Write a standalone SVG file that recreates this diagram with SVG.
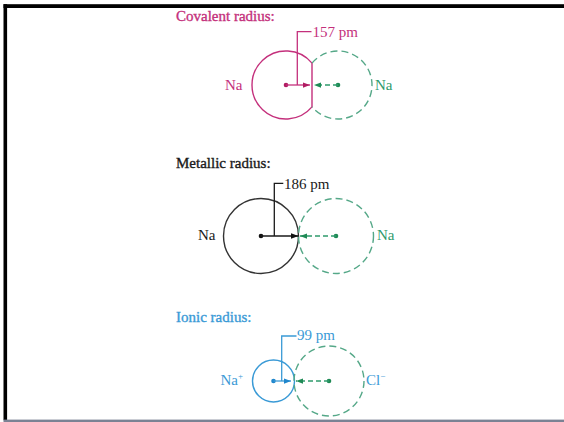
<svg xmlns="http://www.w3.org/2000/svg" width="564" height="422" viewBox="0 0 564 422">
<style>
text{font-family:"Liberation Serif","Times New Roman",serif;font-size:15px}
.t{stroke-width:0.35}
.pink{fill:#c4307c}.grn{fill:#2f9a6c}.blk{fill:#1a1a1a}.blue{fill:#3a9ad6}
.pink.t{stroke:#c4307c}.blk.t{stroke:#1a1a1a}.blue.t{stroke:#3a9ad6}
.cp{fill:none;stroke:#c4307c;stroke-width:1.4}
.cb{fill:none;stroke:#333;stroke-width:1.4}
.cbl{fill:none;stroke:#3a9ad6;stroke-width:1.4}
.cg{fill:none;stroke:#55a888;stroke-width:1.4;stroke-dasharray:7,4}
.lp{stroke:#c4307c;stroke-width:1.3;fill:none}
.lb{stroke:#1a1a1a;stroke-width:1.3;fill:none}
.lbl{stroke:#3a9ad6;stroke-width:1.3;fill:none}
.lg{stroke:#2f9a6c;stroke-width:1.3;fill:none;stroke-dasharray:5,3}
</style>
<defs>
<marker id="ap" viewBox="0 0 8 6" refX="8" refY="3" markerWidth="7" markerHeight="5.5" markerUnits="userSpaceOnUse" orient="auto"><path d="M0,0L8,3L0,6Z" fill="#b01c62"/></marker>
<marker id="ab" viewBox="0 0 8 6" refX="8" refY="3" markerWidth="8" markerHeight="6" markerUnits="userSpaceOnUse" orient="auto"><path d="M0,0L8,3L0,6Z" fill="#111"/></marker>
<marker id="abl" viewBox="0 0 8 6" refX="8" refY="3" markerWidth="7" markerHeight="5.5" markerUnits="userSpaceOnUse" orient="auto"><path d="M0,0L8,3L0,6Z" fill="#1f86cc"/></marker>
<marker id="ag" viewBox="0 0 8 6" refX="8" refY="3" markerWidth="7" markerHeight="5.5" markerUnits="userSpaceOnUse" orient="auto"><path d="M0,0L8,3L0,6Z" fill="#1f8a55"/></marker>
</defs>
<rect x="0" y="0" width="564" height="422" fill="#fff"/>
<g id="frame">
<rect x="3.5" y="4.2" width="561" height="3.8" fill="#000"/>
<rect x="3.5" y="4.2" width="3.6" height="416" fill="#000"/>
<rect x="3.5" y="419.6" width="561" height="2.4" fill="#7b8294"/>
</g>
<g id="covalent">
<text x="176" y="20.7" class="pink t">Covalent radius:</text>
<g id="cov-na1"><path class="cp" d="M312,63.1A34,34 0 1,0 312,106.9Z"/><circle cx="286" cy="85" r="2.3" fill="#b01c62"/><text x="225" y="89.5" class="pink">Na</text></g>
<g id="cov-na2"><path class="cg" d="M312,63.1A34,34 0 1,1 312,106.9"/><circle cx="338" cy="85" r="2.3" fill="#1f8a55"/><text x="375" y="89.5" class="grn">Na</text></g>
<text x="312.5" y="37" class="pink">157 pm</text>
</g>
<g id="metallic">
<text x="176" y="168.3" class="blk t">Metallic radius:</text>
<g id="met-na1"><circle class="cb" cx="261" cy="236" r="37.5"/><circle cx="261" cy="236" r="2.3" fill="#111"/><text x="198" y="240" class="blk">Na</text></g>
<g id="met-na2"><circle class="cg" cx="336" cy="236" r="37.5"/><circle cx="336" cy="236" r="2.3" fill="#1f8a55"/><text x="377" y="240" class="grn">Na</text></g>
<text x="284" y="188.5" class="blk">186 pm</text>
</g>
<g id="ionic">
<text x="176" y="321.7" class="blue t">Ionic radius:</text>
<g id="ion-na"><circle class="cbl" cx="273.5" cy="381" r="21"/><circle cx="273.5" cy="381" r="2.3" fill="#1f86cc"/><text x="220.5" y="385" class="blue">Na<tspan font-size="9" dy="-6">+</tspan></text></g>
<g id="ion-cl"><circle class="cg" cx="329" cy="381" r="35"/><circle cx="329" cy="381" r="2.3" fill="#1f8a55"/><text x="366" y="385" class="blue">Cl<tspan font-size="9" dy="-6">−</tspan></text></g>
<text x="297" y="340" class="blue">99 pm</text>
</g>
<g id="connectors">
<line class="lp" x1="286" y1="85" x2="310" y2="85" marker-end="url(#ap)"/>
<line class="lg" x1="338" y1="85" x2="314" y2="85" marker-end="url(#ag)"/>
<polyline class="lp" points="297.3,85 297.3,31.7 311.5,31.7"/>
<line class="lb" x1="261" y1="236" x2="298.5" y2="236" marker-end="url(#ab)"/>
<line class="lg" x1="336" y1="236" x2="300" y2="236" marker-end="url(#ag)"/>
<polyline class="lb" points="274.3,236 274.3,183.3 283.3,183.3"/>
<line class="lbl" x1="273.5" y1="381" x2="291" y2="381" marker-end="url(#abl)"/>
<line class="lg" x1="329" y1="381" x2="296" y2="381" marker-end="url(#ag)"/>
<polyline class="lbl" points="281.7,381 281.7,336 296.5,336"/>
</g>
</svg>
